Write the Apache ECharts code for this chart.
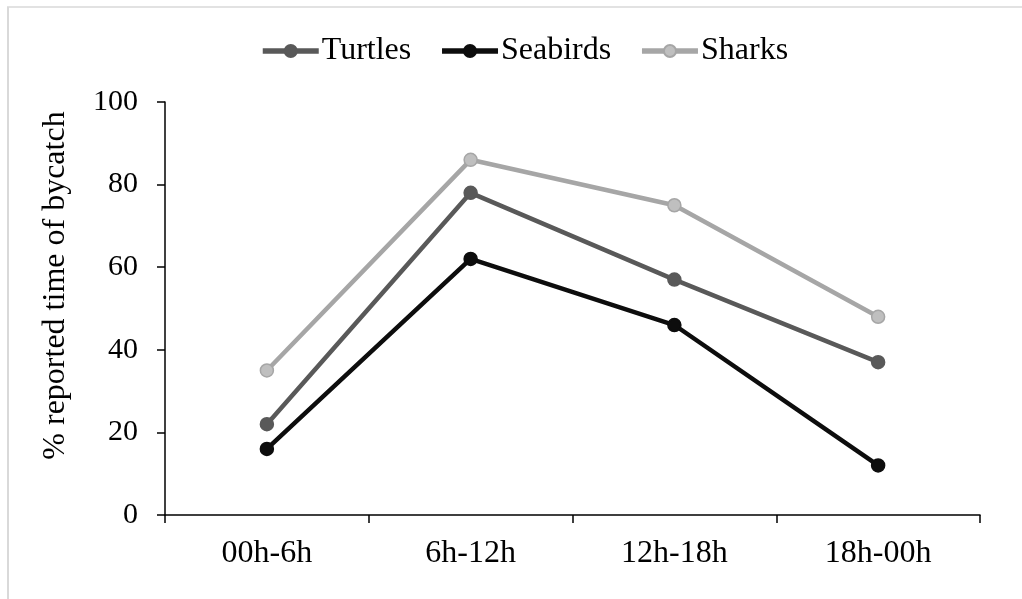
<!DOCTYPE html>
<html>
<head>
<meta charset="utf-8">
<script src="https://cdn.jsdelivr.net/npm/echarts@6/dist/echarts.min.js"></script>
<style>
  html, body { margin: 0; padding: 0; background: #fff; }
  #chart { width: 1022px; height: 599px; }
</style>
</head>
<body>
<div id="chart"></div>
<script>
// Time-of-day windows and the share of bycatch reported in each
const categories = ['00h-6h', '6h-12h', '12h-18h', '18h-00h'];
const turtles = [22, 78, 57, 37];
const seabirds = [16, 62, 46, 12];
const sharks = [35, 86, 75, 48];
const yTicks = { min: 0, max: 100, interval: 20 };

const FONT = '"Liberation Serif", "Times New Roman", serif';

function lineSeries(name, data, lineColor, fillColor) {
  return {
    name: name,
    type: 'line',
    data: data,
    symbol: 'circle',
    symbolSize: 13,
    lineStyle: { color: lineColor, width: 4.5 },
    itemStyle: { color: fillColor, borderColor: lineColor, borderWidth: 1.5 },
    emphasis: { disabled: true },
    z: 3
  };
}

const chart = echarts.init(document.getElementById('chart'), null, { renderer: 'canvas' });
chart.setOption({
  animation: false,
  backgroundColor: '#ffffff',
  textStyle: { fontFamily: FONT },
  legend: {
    top: 30,
    left: 255,
    itemWidth: 56,
    itemHeight: 15,
    itemGap: 28,
    lineStyle: { width: 5.5 },
    textStyle: { fontFamily: FONT, fontSize: 32, color: '#000', padding: [0, 0, 0, -2] },
    data: ['Turtles', 'Seabirds', 'Sharks']
  },
  grid: { left: 165, right: 42, top: 102, bottom: 84 },
  xAxis: {
    type: 'category',
    data: categories,
    boundaryGap: true,
    axisLine: { lineStyle: { color: '#000', width: 1.5 } },
    axisTick: { show: true, length: 8, alignWithLabel: false, lineStyle: { color: '#000', width: 1.5 } },
    axisLabel: { fontFamily: FONT, fontSize: 32, color: '#000', margin: 23 }
  },
  yAxis: {
    type: 'value',
    min: yTicks.min,
    max: yTicks.max,
    interval: yTicks.interval,
    name: '% reported time of bycatch',
    nameLocation: 'middle',
    nameGap: 93,
    nameRotate: 90,
    nameTextStyle: { fontFamily: FONT, fontSize: 32, color: '#000', padding: [0, 0, 0, 46] },
    splitLine: { show: false },
    axisLine: { show: true, lineStyle: { color: '#000', width: 1.5 } },
    axisTick: { show: true, length: 8, lineStyle: { color: '#000', width: 1.5 } },
    axisLabel: { fontFamily: FONT, fontSize: 30, color: '#000', margin: 27 }
  },
  series: [
    lineSeries('Turtles', turtles, '#595959', '#595959'),
    lineSeries('Seabirds', seabirds, '#0d0d0d', '#0d0d0d'),
    lineSeries('Sharks', sharks, '#a6a6a6', '#bfbfbf')
  ],
  graphic: [
    { type: 'line', shape: { x1: 7, y1: 7, x2: 1022, y2: 7 }, style: { stroke: '#d9d9d9', lineWidth: 1.5 }, silent: true },
    { type: 'line', shape: { x1: 8, y1: 7, x2: 8, y2: 599 }, style: { stroke: '#d9d9d9', lineWidth: 2 }, silent: true }
  ]
});
</script>
</body>
</html>
